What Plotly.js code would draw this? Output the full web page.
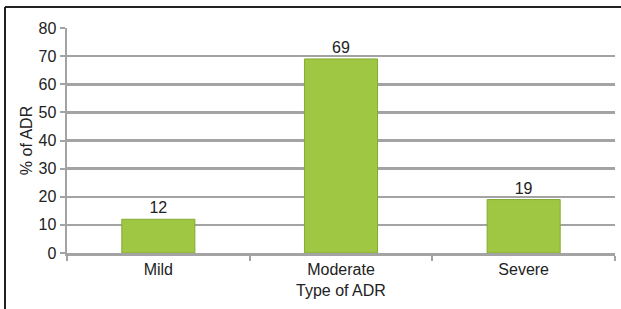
<!DOCTYPE html>
<html>
<head>
<meta charset="utf-8">
<script src="https://cdn.plot.ly/plotly-3.0.1.min.js"></script>
<style>html,body{margin:0;padding:0;background:#fff;}#chart{width:621px;height:309px;}</style>
</head>
<body>
<div id="chart"></div>
<script>
var categories = ["Mild", "Moderate", "Severe"];
var values = [12, 69, 19];
var yTickValues = [0, 10, 20, 30, 40, 50, 60, 70, 80];
var xTitle = "Type of ADR";
var yTitle = "% of ADR";

var grid = "#a3a3a3";
var font = "Arial";

var trace = {
  type: "bar",
  x: categories,
  y: values,
  text: values.map(String),
  textposition: "outside",
  cliponaxis: false,
  textfont: {family: font, size: 16, color: "#222"},
  width: 0.4,
  marker: {color: "#9fc744", line: {color: "#84ab33", width: 1}},
  hoverinfo: "none"
};

var layout = {
  width: 621, height: 309,
  margin: {l: 67, r: 6, t: 28, b: 56},
  paper_bgcolor: "#fff", plot_bgcolor: "#fff",
  showlegend: false,
  font: {family: font, color: "#222"},
  xaxis: {
    type: "category",
    tickson: "boundaries",
    ticks: "outside", ticklen: 5, tickwidth: 2, tickcolor: grid,
    showline: true, linecolor: grid, linewidth: 2.5,
    showgrid: false,
    tickfont: {family: font, size: 16, color: "#222"},
    title: {text: xTitle, font: {family: font, size: 16, color: "#222"}, standoff: 8},
    automargin: false
  },
  yaxis: {
    range: [0, 80],
    tickvals: yTickValues,
    ticks: "outside", ticklen: 5, tickwidth: 2, tickcolor: grid,
    showline: true, linecolor: grid, linewidth: 2.5,
    showgrid: true, gridcolor: grid, gridwidth: 2.5,
    zeroline: false,
    tickfont: {family: font, size: 16, color: "#222"},
    title: {text: yTitle, font: {family: font, size: 16, color: "#222"}, standoff: 2},
    automargin: false
  },
  shapes: [
    {type: "line", xref: "paper", yref: "paper", x0: (5 - 67) / 548, x1: (5 - 67) / 548, y0: 1 + 21 / 225, y1: -56 / 225, line: {color: "#222", width: 2}},
    {type: "line", xref: "paper", yref: "paper", x0: (5 - 67) / 548, x1: (621 - 67) / 548, y0: 1 + 21 / 225, y1: 1 + 21 / 225, line: {color: "#222", width: 2}}
  ]
};

Plotly.newPlot("chart", [trace], layout, {staticPlot: true, displayModeBar: false});
</script>
</body>
</html>
